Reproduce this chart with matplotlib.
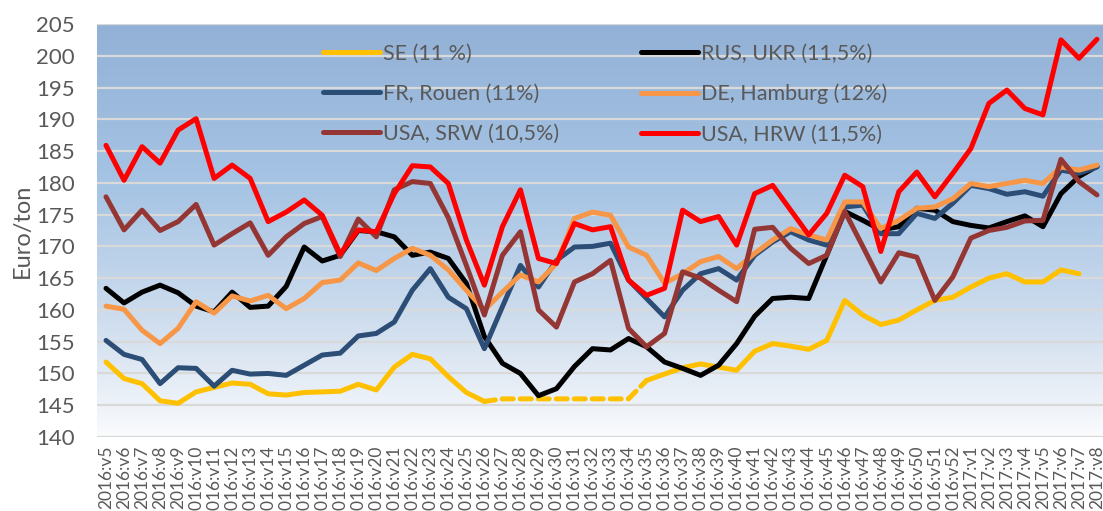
"""Weekly wheat export prices, Euro/ton, 2016:v5 - 2017:v8."""
import numpy as np
import matplotlib
matplotlib.use('Agg')
import matplotlib.pyplot as plt
from matplotlib.colors import LinearSegmentedColormap

weeks = [f'2016:v{w}' for w in range(5, 53)] + [f'2017:v{w}' for w in range(1, 9)]

se = [151.8, 149.2, 148.4, 145.7, 145.3, 147.1, 147.8, 148.5, 148.3, 146.8, 146.6, 147.0, 147.1, 147.2, 148.3, 147.4,
      151.0, 153.0, 152.3, 149.5, 147.0, 145.6, 146.0, 146.0, 146.0, 146.0, 146.0, 146.0, 146.0, 146.0,
      148.9, 149.9, 150.9, 151.5, 151.0, 150.5, 153.5, 154.7, 154.3, 153.8, 155.2, 161.5, 159.2, 157.7,
      158.4, 160.0, 161.5, 162.0, 163.6, 165.0, 165.7, 164.4, 164.4, 166.3, 165.7, np.nan]
rus = [163.4, 161.1, 162.8, 163.9, 162.7, 160.6, 159.7, 162.8, 160.4, 160.6, 163.7, 169.9, 167.7, 168.6, 172.5, 172.3,
       171.5, 168.6, 169.1, 168.1, 164.2, 155.8, 151.6, 150.0, 146.5, 147.6, 151.1, 153.9, 153.7, 155.5,
       154.2, 151.8, 150.8, 149.7, 151.3, 154.7, 159.0, 161.8, 162.0, 161.8, 168.6, 175.5, 174.1, 172.6,
       173.1, 176.0, 175.7, 173.9, 173.3, 172.9, 173.9, 174.8, 173.1, 178.3, 181.0, 182.6]
fr = [155.2, 153.0, 152.2, 148.4, 150.9, 150.8, 148.0, 150.5, 149.9, 150.0, 149.7, 151.3, 152.9, 153.2, 155.9, 156.3,
      158.1, 163.1, 166.5, 162.0, 160.2, 153.9, 160.5, 167.0, 163.6, 167.8, 169.9, 170.0, 170.5, 164.7,
      161.8, 158.9, 163.1, 165.7, 166.5, 164.7, 168.6, 170.7, 172.3, 171.0, 170.2, 176.2, 176.5, 172.0,
      172.0, 175.2, 174.4, 176.8, 179.6, 179.1, 178.2, 178.6, 177.9, 182.0, 181.5, 182.5]
de = [160.6, 160.1, 156.8, 154.7, 157.1, 161.3, 159.5, 162.2, 161.4, 162.3, 160.2, 161.8, 164.3, 164.7, 167.4, 166.2,
      168.1, 169.7, 168.6, 166.3, 163.1, 160.0, 162.8, 165.5, 164.4, 167.3, 174.4, 175.4, 174.9, 169.9,
      168.6, 164.2, 165.7, 167.6, 168.4, 166.5, 168.9, 171.0, 172.8, 171.8, 171.0, 177.0, 177.0, 172.8,
      174.1, 176.0, 176.2, 177.5, 179.9, 179.4, 179.9, 180.4, 179.9, 182.5, 182.0, 182.8]
srw = [177.8, 172.6, 175.7, 172.5, 173.9, 176.6, 170.2, 172.0, 173.7, 168.6, 171.5, 173.6, 174.7, 168.4, 174.3, 171.5,
       178.9, 180.2, 179.9, 174.5, 167.0, 159.2, 168.6, 172.3, 160.0, 157.3, 164.4, 165.7, 167.8, 157.1,
       154.2, 156.3, 166.0, 165.0, 163.1, 161.3, 172.7, 173.0, 169.7, 167.3, 168.6, 175.5, 170.0, 164.4,
       169.0, 168.3, 161.5, 165.2, 171.3, 172.5, 173.0, 174.0, 174.1, 183.7, 180.2, 178.1]
hrw = [185.9, 180.4, 185.7, 183.1, 188.3, 190.1, 180.7, 182.8, 180.7, 173.9, 175.4, 177.3, 174.9, 168.8, 172.6, 172.3,
       178.3, 182.7, 182.5, 179.9, 171.0, 163.9, 173.1, 178.9, 168.1, 167.3, 173.6, 172.6, 173.1, 164.7,
       162.3, 163.4, 175.7, 173.9, 174.7, 170.2, 178.3, 179.6, 175.7, 171.8, 175.2, 181.2, 179.4, 169.2,
       178.6, 181.7, 177.8, 181.5, 185.4, 192.5, 194.6, 191.7, 190.7, 202.5, 199.6, 202.6]

# SE has no quotes for v26-v35, shown dashed
se_gap = (21, 30)

labels = ['SE (11 %)', 'RUS, UKR (11,5%)', 'FR, Rouen (11%)', 'DE, Hamburg (12%)',
          'USA, SRW (10,5%)', 'USA, HRW (11,5%)']
colors = ['#FFC000', '#000000', '#2C4D75', '#F79646', '#943634', '#FF0000']
series = [se, rus, fr, de, srw, hrw]

plt.rcParams['font.family'] = ['Lato', 'DejaVu Sans']
grey = '#595959'

fig = plt.figure(figsize=(11.03, 5.11), dpi=100)
W, H = 1103, 511
ax = fig.add_axes([97 / W, 74 / H, 1009 / W, 413 / H])

x = np.arange(len(weeks))
ax.set_xlim(-0.5, len(weeks) - 0.5)
ax.set_ylim(140, 205)

# background gradient
cmap = LinearSegmentedColormap.from_list('bg', [(0, '#FAFBFD'), (0.25, '#D3E0EF'),
                                               (0.6, '#A6C4E4'), (1, '#93B1D6')])
grad = np.linspace(0, 1, 256).reshape(-1, 1)
ax.imshow(grad, extent=[-0.5, len(weeks) - 0.5, 140, 205], origin='lower',
          aspect='auto', cmap=cmap, zorder=0)

for yv in range(140, 206, 5):
    ax.axhline(yv, color='#D9D9D9', lw=1.6, zorder=1)

lines = []
for i, (vals, lab, c) in enumerate(zip(series, labels, colors)):
    vals = np.array(vals, dtype=float)
    if i == 0:
        a, b = se_gap
        ln, = ax.plot(x[:a + 1], vals[:a + 1], color=c, lw=3.6, solid_capstyle='round',
                      solid_joinstyle='round', zorder=2 + i, label=lab)
        ax.plot(x[b:], vals[b:], color=c, lw=3.6, solid_capstyle='round',
                solid_joinstyle='round', zorder=2 + i)
        ax.plot(x[a:b + 1], vals[a:b + 1], color=c, lw=3.6, ls=(0, (2.2, 1.4)),
                dash_capstyle='round', zorder=2 + i)
    else:
        ln, = ax.plot(x, vals, color=c, lw=3.6, solid_capstyle='round',
                      solid_joinstyle='round', zorder=2 + i, label=lab)
    lines.append(ln)

for s in ax.spines.values():
    s.set_visible(False)
ax.tick_params(length=0, colors=grey)
ax.set_yticks(range(140, 206, 5))
ax.tick_params(axis='y', labelsize=16, pad=16)
ax.set_xticks(x)
ax.set_xticklabels(weeks, rotation=90, fontsize=12.5, va='top', ha='center')
ax.tick_params(axis='x', pad=6)
ax.set_ylabel('Euro/ton', fontsize=17, color=grey, labelpad=2)

order = [0, 2, 4, 1, 3, 5]
leg = ax.legend([lines[k] for k in order], [labels[k] for k in order], ncol=2,
                loc='upper left', bbox_to_anchor=(0.224, 0.952), frameon=False,
                borderpad=0, borderaxespad=0,
                fontsize=15.5, handlelength=2.65, handletextpad=0.15, columnspacing=3.77,
                labelspacing=0.93)
for t in leg.get_texts():
    t.set_color(grey)
leg.set_zorder(10)

fig.savefig('out.png', dpi=100)
